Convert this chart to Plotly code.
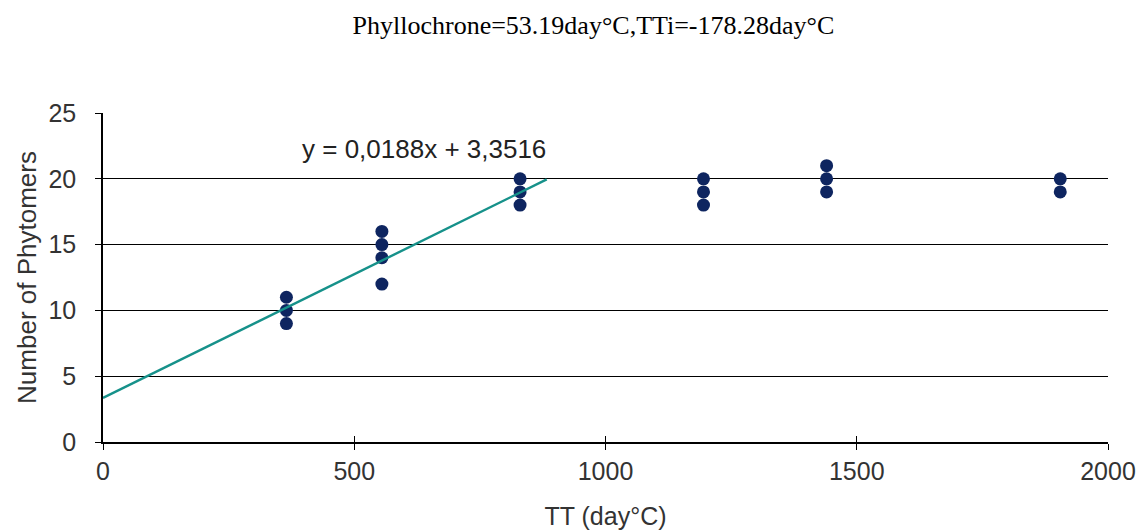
import plotly.graph_objects as go

# thermal time (day°C) and phytomer counts
tt = [365, 365, 365,
      555, 555, 555, 555,
      830, 830, 830,
      1195, 1195, 1195,
      1440, 1440, 1440,
      1905, 1905]
phytomers = [9, 10, 11,
             12, 14, 15, 16,
             18, 19, 20,
             18, 19, 20,
             19, 20, 21,
             19, 20]

# linear trend shown on the chart
slope = 0.0188
intercept = 3.3516
trend_x = [0, 883]

x_ticks = [0, 500, 1000, 1500, 2000]
y_ticks = [0, 5, 10, 15, 20, 25]

title_text = "Phyllochrone=53.19day°C,TTi=-178.28day°C"
equation_text = "y = 0,0188x + 3,3516"

SANS = "Liberation Sans, Arial"

fig = go.Figure()

fig.add_trace(go.Scatter(
    x=tt, y=phytomers, mode="markers",
    marker=dict(size=13, color="#0e2560", line=dict(width=0)),
    showlegend=False,
))

fig.add_trace(go.Scatter(
    x=trend_x, y=[slope * x + intercept for x in trend_x], mode="lines",
    line=dict(color="#16918a", width=2.4),
    showlegend=False,
))

# equation label sits just under the 25 gridline
fig.add_annotation(
    x=392, y=22.3, xref="x", yref="y",
    xanchor="left", yanchor="middle", showarrow=False,
    text=equation_text,
    font=dict(family=SANS, size=26, color="#222"),
)

tick_font = dict(family=SANS, size=25, color="#333")

fig.update_xaxes(
    range=[0, 2000], tickvals=x_ticks, automargin=False,
    showline=True, linecolor="black", linewidth=1.5,
    ticks="outside", ticklen=6, tickcolor="black", tickwidth=1.3,
    ticklabelstandoff=0,
    showgrid=False, zeroline=False,
    tickfont=tick_font,
    title=dict(text="TT (day°C)", font=dict(family=SANS, size=25, color="#333"),
               standoff=24),
)
fig.update_yaxes(
    range=[0, 25], tickvals=y_ticks, automargin=False,
    showline=True, linecolor="black", linewidth=1.5,
    ticks="outside", ticklen=6, tickcolor="black", tickwidth=1.3,
    ticklabelstandoff=14,
    showgrid=True, gridcolor="black", gridwidth=1.3,
    zeroline=False,
    tickfont=tick_font,
    title=dict(text="Number of Phytomers", font=dict(family=SANS, size=26, color="#333"),
               standoff=4),
)

# inner halves of the crossing tick marks
fig.update_layout(
    xaxis2=dict(overlaying="x", matches="x", range=[0, 2000], tickvals=x_ticks,
                ticks="inside", ticklen=6, tickcolor="black", tickwidth=1.3,
                showticklabels=False, showgrid=False, zeroline=False,
                showline=False, side="bottom", automargin=False),
    yaxis2=dict(overlaying="y", matches="y", range=[0, 25], tickvals=y_ticks,
                ticks="inside", ticklen=6, tickcolor="black", tickwidth=1.3,
                showticklabels=False, showgrid=False, zeroline=False,
                showline=False, side="left", automargin=False),
)
fig.add_trace(go.Scatter(x=[None], y=[None], xaxis="x2", yaxis="y2",
                         showlegend=False, hoverinfo="skip"))

fig.update_layout(
    width=1139, height=532,
    paper_bgcolor="white", plot_bgcolor="white",
    margin=dict(l=103, r=31, t=113, b=90),
    title=dict(
        text=title_text, xref="paper", x=0.488, xanchor="center",
        y=0.953, yanchor="middle",
        font=dict(family="Liberation Serif, Times New Roman", size=26, color="black"),
    ),
)

# drop the default 8px page margin so the figure fills the window exactly
fig.write_html(
    "out.html",
    config={"displayModeBar": False},
    post_script="document.body.style.margin='0';",
)
